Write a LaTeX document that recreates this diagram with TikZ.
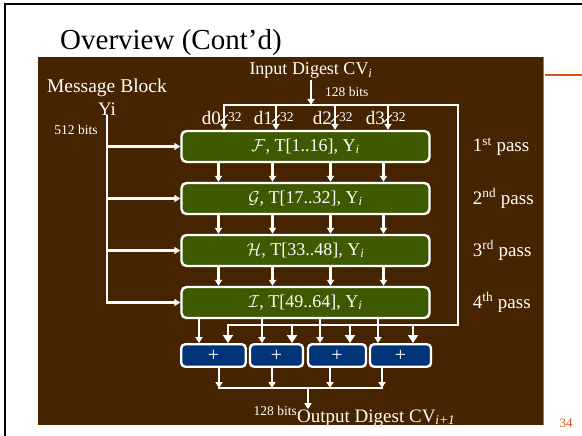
\documentclass[tikz,border=0pt]{standalone}
\usepackage{fontspec}
\setmainfont{Liberation Serif}
\usetikzlibrary{positioning, arrows.meta}

\definecolor{slidebrown}{RGB}{71,36,0}
\definecolor{passgreen}{RGB}{61,90,0}
\definecolor{addblue}{RGB}{0,52,120}
\definecolor{slideorange}{RGB}{208,86,27}

\begin{document}
\begin{tikzpicture}[x=1pt, y=-1pt,
    passbox/.style={draw=white, line width=2.4pt, rounded corners=5pt, fill=passgreen, text=white,
      minimum width=248pt, minimum height=31pt, inner sep=0pt, font=\fontsize{18}{18}\selectfont},
    addbox/.style={draw=white, line width=2.4pt, rounded corners=4pt, fill=addblue, text=white,
      minimum height=22.5pt, inner sep=0pt, font=\fontsize{20}{20}\selectfont},
    wire/.style={draw=white, line width=2.5pt, line cap=rect},
    arr/.style={wire, -{Triangle[width=7pt,length=6pt]}},
    bigarr/.style={wire, -{Triangle[width=10pt,length=8pt]}},
    lbl/.style={text=white, inner sep=0pt, font=\fontsize{19}{19}\selectfont},
    small/.style={text=white, inner sep=0pt, font=\fontsize{13.5}{13.5}\selectfont}]

    % Slide
    \useasboundingbox (0,0) rectangle (582,436);
    \fill[white] (0,0) rectangle (582,436);
    \draw[line width=1.5pt] (5,436) -- (5,4) -- (582,4);
    \node[anchor=base west, inner sep=0pt, font=\fontsize{29}{29}\selectfont] (title) at (60,50) {Overview (Cont’d)};
    \fill[slidebrown] (38,57) rectangle (543,425);
    \draw[slidebrown!60!white, line width=0.8pt] (543,57) -- (543,425);
    \draw[slideorange, line width=1.2pt] (545,75) -- (582,75);
    \node[text=slideorange, inner sep=0pt, font=\fontsize{13}{13}\selectfont] (pageno) at (566,423) {34};

    % Passes
    \node[passbox] (F) at (305.5,146.5) {$\mathcal{F}$, T[1..16], Y\textsubscript{\textit{i}}};
    \node[passbox] (G) at (305.5,198.5) {$\mathcal{G}$, T[17..32], Y\textsubscript{\textit{i}}};
    \node[passbox] (H) at (305.5,250.5) {$\mathcal{H}$, T[33..48], Y\textsubscript{\textit{i}}};
    \node[passbox] (I) at (305.5,302.5) {$\mathcal{I}$, T[49..64], Y\textsubscript{\textit{i}}};

    \node[lbl, right=42pt of F] (pass1) {1\textsuperscript{st} pass};
    \node[lbl, right=42pt of G] (pass2) {2\textsuperscript{nd} pass};
    \node[lbl, right=42pt of H] (pass3) {3\textsuperscript{rd} pass};
    \node[lbl, right=42pt of I] (pass4) {4\textsuperscript{th} pass};

    \foreach \a/\b in {F/G, G/H, H/I}
      \foreach \dx in {-87,-33,25,78}
        \draw[arr] ([xshift=\dx]\a.south) -- ([xshift=\dx]\b.north);

    % Message block
    \node[lbl, anchor=base, font=\fontsize{19.5}{19.5}\selectfont] (msg) at (107,93) {Message Block};
    \node[lbl, anchor=base] (yi) at (107,116) {Yi};
    \node[small, anchor=base] (bits512) at (76,135) {512 bits};
    \draw[wire] (yi.south) -- (yi.south |- I.west);
    \foreach \p in {F,G,H,I}
      \draw[arr] (yi.south |- \p.west) -- (\p.west);

    % Input digest
    \node[lbl, anchor=base, font=\fontsize{18}{18}\selectfont] (cvin) at (311,75) {Input Digest CV\textsubscript{\textit{i}}};
    \node[small, anchor=base west] (bits128) at (325,97) {128 bits};
    \coordinate (bus) at (224,105);
    \coordinate (busR) at (458,105);
    \coordinate (fbR) at (458,325);
    \draw[arr] ([yshift=-2]cvin.south) -- (cvin.south |- bus);

    \foreach \dx/\d in {-81.5/d0, -29.5/d1, 29.5/d2, 82.5/d3} {
      \draw[arr] ([xshift=\dx]F.north |- bus) -- ([xshift=\dx]F.north);
      \node[lbl, anchor=base east] at ([xshift={\dx-3}, yshift=5]F.north) {\d};
      \node[small, anchor=base west] at ([xshift={\dx+4}, yshift=8]F.north) {32};
      \draw[white, line width=1pt] ([xshift={\dx+4}, yshift=15]F.north) -- ([xshift={\dx-4}, yshift=8]F.north);
    }

    % Adders
    \node[addbox, minimum width=64.5pt] (A1) at (213.5,355.5) {+};
    \node[addbox, minimum width=53pt] (A2) at (276.5,355.5) {+};
    \node[addbox, minimum width=58pt] (A3) at (337,355.5) {+};
    \node[addbox, minimum width=61pt] (A4) at (400.5,355.5) {+};

    \draw[wire] (bus) -- (busR) -- (fbR) -- ([xshift=14.5]A1.north |- fbR);
    \foreach \n/\l/\r in {1/-14.5/14.5, 2/-14.5/15.5, 3/-17/13, 4/-22.5/12.5} {
      \draw[arr] ([xshift=\l]A\n.north |- I.south) -- ([xshift=\l]A\n.north);
      \draw[bigarr] ([xshift=\r]A\n.north |- fbR) -- ([xshift=\r]A\n.north);
    }

    % Output digest
    \coordinate (merge) at (308,388);
    \foreach \n/\o in {1/5.5, 2/-4.5, 3/-7, 4/-18.5}
      \draw[arr] ([xshift=\o]A\n.south) -- ([xshift=\o]A\n.south |- merge);
    \draw[wire] ([xshift=5.5]A1.south |- merge) -- ([xshift=-18.5]A4.south |- merge);
    \node[lbl, anchor=base west] (cvout) at (297,422) {Output Digest CV\textsubscript{\textit{i+1}}};
    \node[small, anchor=base east] (bits128out) at ([yshift=7]cvout.base west) {128 bits};
    \draw[arr] (merge) -- (merge |- cvout.north);

\end{tikzpicture}
\end{document}
